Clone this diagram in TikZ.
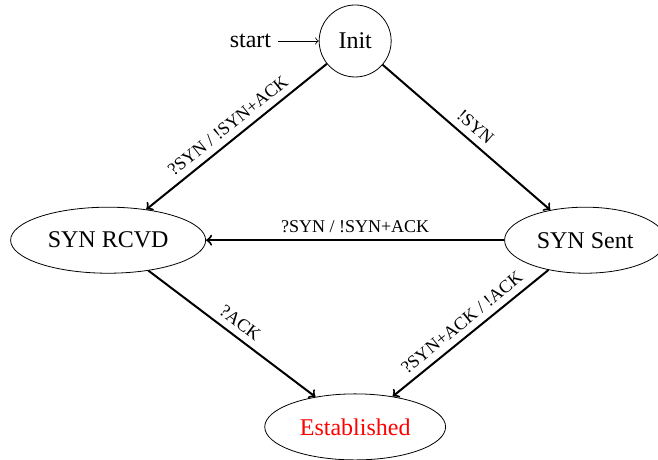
\documentclass[tikz,border=0pt]{standalone}
\usepackage{fontspec}
\setmainfont{Liberation Serif}
\usepackage{tikz}
\usepackage{xcolor}
\usetikzlibrary{shapes.geometric}

\begin{document}
\begin{tikzpicture}[
  state/.style={ellipse, draw, font=\large, inner xsep=4.3pt, minimum height=1.16cm},
  trans/.style={->, line width=1pt},
  lbl/.style={font=\small, sloped, above}
]
\useasboundingbox (-6.24,-7.36) rectangle (5.32,0.72);
\node[circle, draw, font=\large, minimum size=1.265cm] (init) at (0,0) {Init};
\node[font=\large] (start) at (-1.84,0) {start};
\node[state] (rcvd) at (-4.34,-3.50) {SYN RCVD};
\node[state] (sent) at (4.04,-3.50) {SYN Sent};
\node[state, text=red] (est) at (0,-6.78) {Established};
\draw[->] (start) -- (init);
\draw[trans] (init) -- node[lbl] {?SYN / !SYN+ACK} (rcvd);
\draw[trans] (init) -- node[lbl] {!SYN} (sent);
\draw[trans] (sent) -- node[lbl] {?SYN / !SYN+ACK} (rcvd);
\draw[trans] (rcvd) -- node[lbl] {?ACK} (est);
\draw[trans] (sent) -- node[lbl] {?SYN+ACK / !ACK} (est);
\end{tikzpicture}
\end{document}
